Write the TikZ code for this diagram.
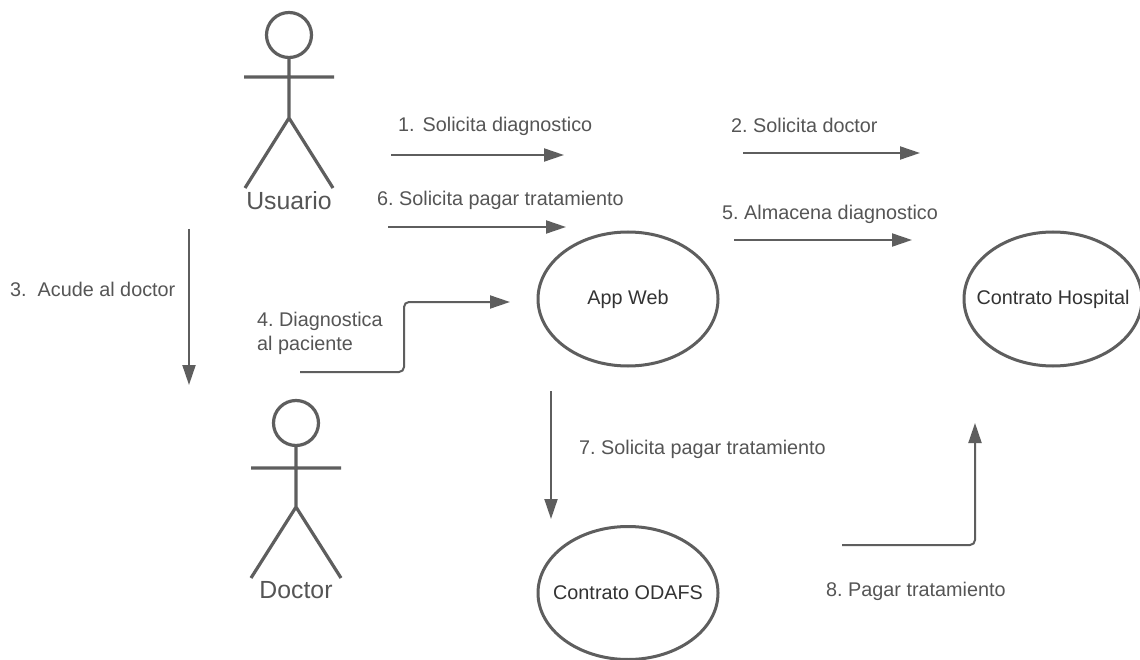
\documentclass[tikz,border=0pt]{standalone}
\usepackage{fontspec}
\setmainfont{Liberation Sans}
\usetikzlibrary{arrows.meta,shapes.geometric}
\definecolor{ln}{HTML}{5E5E5E}
\definecolor{tx}{HTML}{555555}
\frenchspacing
\tikzset{
 px/.style={x=1pt,y=-1pt},
 ent/.style={draw=ln,line width=3pt,ellipse,inner sep=0pt,text=tx!60!black,font=\fontsize{19.8}{22}\selectfont},
 actor/.style={draw=ln,line width=3.2pt},
 conn/.style={draw=ln,line width=2pt,-{Triangle[length=20pt,width=13pt]},rounded corners=5pt},
 lbl/.style={text=tx,font=\fontsize{19.8}{24}\selectfont,inner sep=0pt,anchor=west,align=left},
 actlbl/.style={text=tx,font=\fontsize{24.8}{28}\selectfont,inner sep=0pt},
}
\begin{document}
\begin{tikzpicture}[px]
\useasboundingbox (0,0) rectangle (1140,660);
\node[draw=none,fill=white,minimum width=1140pt,minimum height=660pt,anchor=north west,inner sep=0] (bg) at (0,0) {};
% actors
\draw[actor] (289,35) circle (22.5);
\draw[actor] (289,58)--(289,118) (244,77)--(334,77) (245,188)--(289,118)--(333,188);
\node[actlbl] (usuario) at (289,201) {Usuario};
\draw[actor] (296,423) circle (22.5);
\draw[actor] (296,446)--(296,507) (251,468)--(341,468) (251,578)--(296,507)--(341,578);
\node[actlbl] (doctor) at (296,590) {Doctor};
% entities
\node[ent,minimum width=180pt,minimum height=134pt] (app) at (628,299) {\makebox[0pt]{App Web}};
\node[ent,minimum width=178pt,minimum height=134pt] (hosp) at (1053,299) {\makebox[0pt]{Contrato Hospital}};
\node[ent,minimum width=180pt,minimum height=133pt] (odafs) at (628,593) {\makebox[0pt]{Contrato ODAFS}};
% free ends
\coordinate (a1) at (391,155); \coordinate (b1) at (564,155);
\coordinate (a2) at (743,153); \coordinate (b2) at (920,153);
\coordinate (a3) at (189,229); \coordinate (b3) at (189,385);
\coordinate (a6) at (388,227); \coordinate (b6) at (566,227);
\coordinate (a5) at (734,240); \coordinate (b5) at (912,240);
\coordinate (a4) at (300,372); \coordinate (b4) at (510,302);
\coordinate (a7) at (551,391); \coordinate (b7) at (551,519);
\coordinate (a8) at (842,545); \coordinate (b8) at (975,423);
\draw[conn] (a1)--(b1);
\draw[conn] (a2)--(b2);
\draw[conn] (a3)--(b3);
\draw[conn] (a6)--(b6);
\draw[conn] (a5)--(b5);
\draw[conn] (a4)-|(404,302)--(b4);
\draw[conn] (a7)--(b7);
\draw[conn] (a8)-|(b8);
% labels
\node[lbl] (l1) at (398,126) {1.\hspace{8pt}Solicita diagnostico};
\node[lbl] (l2) at (731,125) {2. Solicita doctor};
\node[lbl] (l3) at (10,289) {3.\ \ Acude al doctor};
\node[lbl] (l4) at (257,333) {4. Diagnostica\\al paciente};
\node[lbl] (l5) at (722,214) {5. Almacena diagnostico};
\node[lbl] (l6) at (377,200) {6. Solicita pagar tratamiento};
\node[lbl] (l7) at (579,449) {7. Solicita pagar tratamiento};
\node[lbl] (l8) at (826,591) {8. Pagar tratamiento};
\end{tikzpicture}
\end{document}
